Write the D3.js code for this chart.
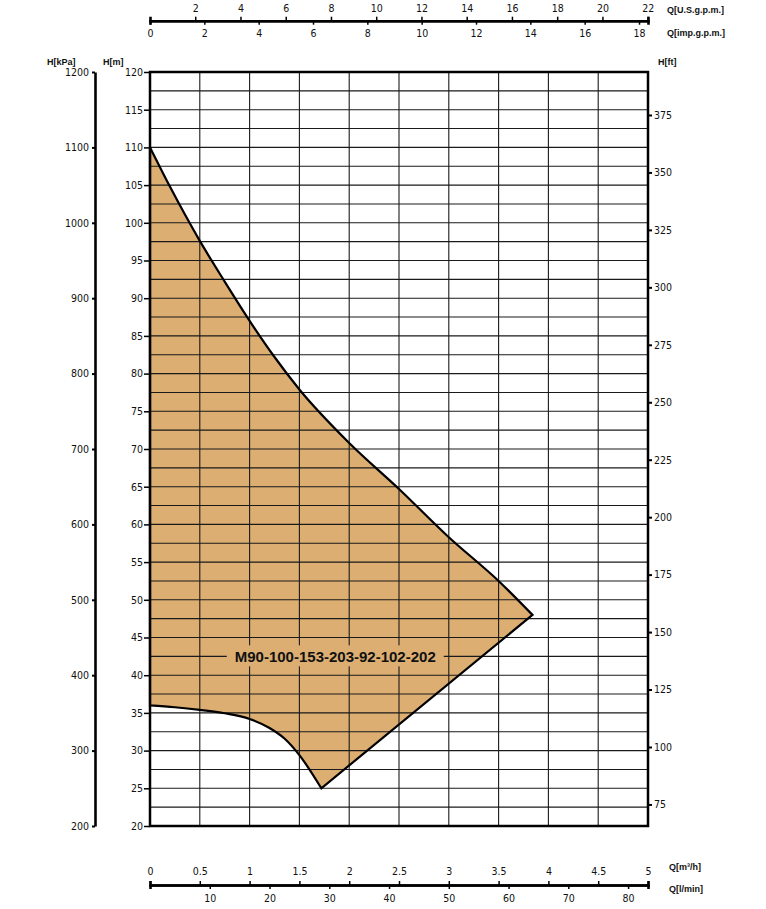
<!DOCTYPE html>
<html><head><meta charset="utf-8">
<script src="https://cdn.jsdelivr.net/npm/d3@7"></script>
<style>
html,body{margin:0;padding:0;background:#fff;}
svg{display:block;}
.num{font-family:"Liberation Sans Narrow","DejaVu Sans Condensed",sans-serif;font-size:10.5px;fill:#111;}
.ttl{font-family:"Liberation Sans",Arial,sans-serif;font-size:9px;font-weight:bold;fill:#111;}
</style></head>
<body>
<script>
// ---- data ----
const upperQ = [0, 0.2, 0.5, 0.75, 1.0, 1.25, 1.5, 2.0, 2.5, 3.0, 3.5, 3.84];
const upperH = [110, 104.8, 97.6, 92.2, 87.0, 82.2, 77.9, 70.8, 64.7, 58.3, 52.5, 48.0];
const lowerQ = [1.72, 1.5, 1.35, 1.2, 1.0, 0.75, 0.5, 0.25, 0];
const lowerH = [25, 29.4, 31.6, 33.0, 34.2, 34.95, 35.4, 35.75, 36.0];
const modelLabel = "M90-100-153-203-92-102-202";
const labelQ = 1.86, labelH = 42.5;
const mTicks = d3.range(20, 121, 5);
const kPaTicks = d3.range(200, 1201, 100);
const ftTicks = [75, 100, 125, 150, 175, 200, 225, 250, 275, 300, 325, 350, 375];
const m3hTicks = [0, 0.5, 1, 1.5, 2, 2.5, 3, 3.5, 4, 4.5, 5];
const lminTicks = [10, 20, 30, 40, 50, 60, 70, 80];
const usTicks = [2, 4, 6, 8, 10, 12, 14, 16, 18, 20, 22];
const impTicks = [0, 2, 4, 6, 8, 10, 12, 14, 16, 18];
const gridQ = d3.range(0.5, 5, 0.5);
const gridH = d3.range(22.5, 120, 2.5);

// ---- layout ----
const W = 766, H = 909;
const L = 150, R = 648, T = 72, B = 826;
const svg = d3.select("body").append("svg").attr("width", W).attr("height", H);

const x = d3.scaleLinear().domain([0, 5]).range([L, R]);
const y = d3.scaleLinear().domain([20, 120]).range([B, T]);
const yk = d3.scaleLinear().domain([200, 1200]).range([B, T]);
const yft = d3.scaleLinear().domain([20 * 3.28084, 120 * 3.28084]).range([B, T]);
const lmin = 5 * 1000 / 60;
const xl = d3.scaleLinear().domain([0, lmin]).range([L, R]);
const xus = d3.scaleLinear().domain([0, lmin / 3.78541]).range([L, R]);
const ximp = d3.scaleLinear().domain([0, lmin / 4.54609]).range([L, R]);

const fillCol = "#dcae72";

// shape
const upperPts = upperQ.map((q, i) => [x(q), y(upperH[i])]);
const lowerPts = lowerQ.map((q, i) => [x(q), y(lowerH[i])]);
const lg = d3.line().curve(d3.curveMonotoneX);
const shapePath = lg(upperPts) + lg(lowerPts).replace(/^M/, "L") + "Z";

svg.append("path").attr("d", shapePath).attr("fill", fillCol).attr("stroke", "none");

// grid
const grid = svg.append("g").attr("stroke", "#1a1a1a").attr("stroke-width", 1.1);
grid.selectAll("line.v").data(gridQ).join("line")
  .attr("x1", d => x(d)).attr("x2", d => x(d)).attr("y1", T).attr("y2", B);
grid.selectAll("line.h").data(gridH).join("line")
  .attr("x1", L).attr("x2", R).attr("y1", d => y(d)).attr("y2", d => y(d));

// label
const lab = svg.append("g");
const lt = lab.append("text").attr("x", x(labelQ)).attr("y", y(labelH))
  .attr("text-anchor", "middle").attr("dy", "0.36em")
  .style("font-family", "'Liberation Sans',Arial,sans-serif").style("font-size", "15px")
  .style("font-weight", "bold").style("fill", "#111").text(modelLabel);
const bb = lt.node().getBBox();
lab.insert("rect", "text").attr("x", bb.x - 8).attr("y", y(labelH) - 11)
  .attr("width", bb.width + 16).attr("height", 21).attr("fill", fillCol);

// outline
svg.append("path").attr("d", shapePath).attr("fill", "none").attr("stroke", "#000")
  .attr("stroke-width", 2.2).attr("stroke-linejoin", "miter");

// border
svg.append("rect").attr("x", L).attr("y", T).attr("width", R - L).attr("height", B - T)
  .attr("fill", "none").attr("stroke", "#000").attr("stroke-width", 2.5);

function style(g, w) {
  g.selectAll("text").attr("class", "num");
  g.select(".domain").attr("stroke", "#000").attr("stroke-width", w);
  g.selectAll(".tick line").attr("stroke", "#000").attr("stroke-width", 1.5);
}
const fmt = d3.format("d");

// left kPa axis
const gk = svg.append("g").attr("transform", "translate(95,0)")
  .call(d3.axisLeft(yk).tickValues(kPaTicks).tickFormat(fmt).tickSize(3).tickPadding(3).tickSizeOuter(0));
style(gk, 2.6);
gk.selectAll(".tick line").attr("stroke-width", 2);

// left m axis
const gm = svg.append("g").attr("transform", `translate(${L},0)`)
  .call(d3.axisLeft(y).tickValues(mTicks).tickFormat(fmt).tickSize(6).tickPadding(1).tickSizeOuter(0));
style(gm, 0);
gm.select(".domain").remove();

// right ft axis
const gf = svg.append("g").attr("transform", `translate(${R},0)`)
  .call(d3.axisRight(yft).tickValues(ftTicks).tickFormat(fmt).tickSize(4).tickPadding(2).tickSizeOuter(0));
style(gf, 0);
gf.select(".domain").remove();
gf.selectAll(".tick line").attr("stroke-width", 2);

// top axes
const topY = 20.7;
const gus = svg.append("g").attr("transform", `translate(0,${topY})`)
  .call(d3.axisTop(xus).tickValues(usTicks).tickFormat(fmt).tickSize(4).tickPadding(5).tickSizeOuter(4));
style(gus, 2.6);
const gimp = svg.append("g").attr("transform", `translate(0,${topY})`)
  .call(d3.axisBottom(ximp).tickValues(impTicks).tickFormat(fmt).tickSize(4).tickPadding(5).tickSizeOuter(4));
style(gimp, 2.6);

// bottom axes
const botY = 885;
const gm3 = svg.append("g").attr("transform", `translate(0,${botY})`)
  .call(d3.axisTop(x).tickValues(m3hTicks).tickFormat(d3.format("")).tickSize(4).tickPadding(6).tickSizeOuter(4));
style(gm3, 2.6);
const gl = svg.append("g").attr("transform", `translate(0,${botY})`)
  .call(d3.axisBottom(xl).tickValues(lminTicks).tickFormat(fmt).tickSize(4).tickPadding(6).tickSizeOuter(4));
style(gl, 2.6);

// titles
const titles = [
  ["H[kPa]", 47, 65],
  ["H[m]", 103, 65],
  ["H[ft]", 658, 65],
  ["Q[U.S.g.p.m.]", 667, 13],
  ["Q[imp.g.p.m.]", 667, 36],
  ["Q[m³/h]", 669, 870],
  ["Q[l/min]", 669, 892]
];
svg.selectAll("text.ttl").data(titles).join("text").attr("class", "ttl")
  .attr("x", d => d[1]).attr("y", d => d[2]).text(d => d[0]);
</script>
</body></html>
